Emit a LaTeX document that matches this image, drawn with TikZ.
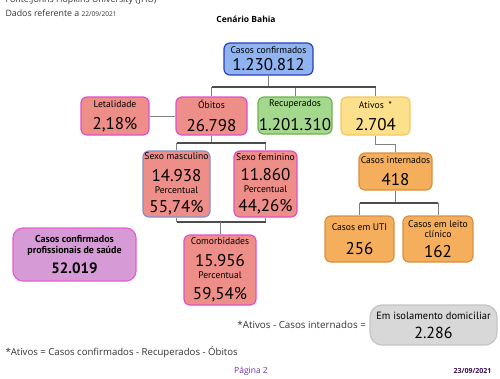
\documentclass[tikz,border=0pt]{standalone}
\usepackage{fontspec}
\setmainfont{Open Sans}
\newfontfamily\boxfont{PT Sans}
\usetikzlibrary{positioning}

\definecolor{confFill}{HTML}{8FB4F0}
\definecolor{confLine}{HTML}{2A3FBF}
\definecolor{salmon}{HTML}{EE8E88}
\definecolor{pinkLine}{HTML}{E050C8}
\definecolor{mascLine}{HTML}{8090D0}
\definecolor{recFill}{HTML}{A4D88C}
\definecolor{recLine}{HTML}{70B050}
\definecolor{atiFill}{HTML}{FCE08C}
\definecolor{atiLine}{HTML}{F0C860}
\definecolor{intFill}{HTML}{F4AE5C}
\definecolor{intLine}{HTML}{D89040}
\definecolor{profFill}{HTML}{D69AD6}
\definecolor{profLine}{HTML}{E85CD0}
\definecolor{isoFill}{HTML}{D8D8D8}
\definecolor{isoLine}{HTML}{C4C4C4}
\definecolor{pagePurple}{HTML}{7030A0}
\definecolor{datePurple}{HTML}{3A1050}

\newcommand{\bignum}[1]{{\fontsize{17}{12}\selectfont #1}}

\tikzset{
  card/.style={rectangle, rounded corners=6pt, line width=1.2pt, align=center,
    inner sep=0pt, font=\boxfont\fontsize{9.6}{12}\selectfont, text=black},
  bar/.style={line width=2.4pt, black!70},
  tie/.style={line width=0.9pt, black!50},
  pagetext/.style={text=black!80},
}

\begin{document}
\begin{tikzpicture}[x=1pt, y=-1pt]
\useasboundingbox (0,0) rectangle (500,378);

% header
\begin{scope}
\clip (0,0) rectangle (500,378);
\node[pagetext, anchor=base west, font=\fontsize{8.8}{10}\selectfont] (src) at (2,2) {Fonte:Johns Hopkins University (JHU)};
\end{scope}
\node[pagetext, anchor=base west, font=\fontsize{8.8}{10}\selectfont] (ref) at (2,16) {Dados referente a {\fontsize{6.6}{7}\selectfont 22/09/2021}};
\node[font=\bfseries\fontsize{8.5}{10}\selectfont] (title) at (246,19) {Cenário Bahia};

% boxes
\node[card, fill=confFill, draw=confLine, minimum width=89pt, minimum height=32pt] (conf) at (268.5,59)
  {Casos confirmados\\[4pt]\bignum{1.230.812}};
\node[card, fill=salmon, draw=pinkLine, minimum width=68pt, minimum height=38pt] (leta) at (115,116)
  {Letalidade\\[9pt]\bignum{2,18\%}};
\node[card, fill=salmon, draw=pinkLine, minimum width=71pt, minimum height=38pt] (obit) at (211.5,116)
  {Óbitos\\[9pt]\bignum{26.798}};
\node[card, fill=recFill, draw=recLine, minimum width=74pt, minimum height=37pt] (recu) at (295,115.5)
  {Recuperados\\[9pt]\bignum{1.201.310}};
\node[card, fill=atiFill, draw=atiLine, minimum width=69pt, minimum height=38pt] (ativ) at (375.5,116)
  {Ativos\enspace*\\[9pt]\bignum{2.704}};

\node[card, fill=salmon, draw=mascLine, minimum width=67pt, minimum height=66pt] (masc) at (176.5,184)
  {Sexo masculino\\[8pt]\bignum{14.938}\\[0pt]Percentual\\[6pt]\bignum{55,74\%}};
\node[card, fill=salmon, draw=pinkLine, minimum width=63pt, minimum height=66pt] (femi) at (265.5,184)
  {Sexo feminino\\[7pt]\bignum{11.860}\\[0pt]Percentual\\[6pt]\bignum{44,26\%}};
\node[card, fill=salmon, draw=pinkLine, minimum width=72pt, minimum height=70pt] (como) at (220,270)
  {Comorbidades\\[8pt]\bignum{15.956}\\[0pt]Percentual\\[8pt]\bignum{59,54\%}};

\node[card, fill=intFill, draw=intLine, minimum width=73pt, minimum height=37pt] (inte) at (395.5,171.5)
  {Casos internados\\[9pt]\bignum{418}};
\node[card, fill=intFill, draw=intLine, minimum width=69pt, minimum height=46pt] (utis) at (359.5,239)
  {Casos em UTI\\[11pt]\bignum{256}};
\node[card, fill=intFill, draw=intLine, minimum width=70pt, minimum height=46pt] (leit) at (438,239)
  {Casos em leito\\[-2pt]clínico\\[7pt]\bignum{162}};

\node[card, fill=profFill, draw=profLine, minimum width=123pt, minimum height=53pt, rounded corners=10pt,
  font=\boxfont\bfseries\fontsize{10}{12}\selectfont] (prof) at (74.5,254.5)
  {Casos confirmados\\[-1pt]profissionais de saúde\\[7pt]{\fontsize{15}{12}\selectfont 52.019}};

\node[card, fill=isoFill, draw=isoLine, minimum width=127pt, minimum height=40pt, rounded corners=12pt,
  font=\boxfont\fontsize{10.5}{12}\selectfont] (isol) at (433.5,325)
  {Em isolamento domiciliar\\[7pt]{\fontsize{16}{12}\selectfont 2.286}};
\node[pagetext, anchor=east, font=\fontsize{9.8}{12}\selectfont] (eqiso) at (isol.west) {*Ativos - Casos internados =};

% connectors
\coordinate (b1) at (268.5,87);
\draw[tie] (conf.south) -- (b1);
\draw[tie] (obit.north |- b1) -- (obit.north);
\draw[tie] (recu.north |- b1) -- (recu.north);
\draw[tie] (ativ.north |- b1) -- (ativ.north);
\draw[bar] (obit.north |- b1) -- (ativ.north |- b1);
\draw[tie] (leta.east) -- (obit.west);

\coordinate (b2) at (211.5,143);
\draw[tie] (obit.south) -- (b2);
\draw[tie] (masc.north |- b2) -- (masc.north);
\draw[tie] (femi.north |- b2) -- (femi.north);
\draw[bar] (masc.north |- b2) -- (femi.north |- b2);

\coordinate (b3) at (220,222);
\draw[tie] (masc.south |- b3) -- (masc.south);
\draw[tie] (femi.south |- b3) -- (femi.south);
\draw[bar] (masc.south |- b3) -- (femi.south |- b3);
\draw[tie] (b3) -- (como.north);

\coordinate (b4) at (375.5,144);
\draw[tie] (ativ.south) -- (b4) -| (inte.north);

\coordinate (b5) at (395.5,203);
\draw[tie] (inte.south) -- (b5);
\draw[tie] (utis.north |- b5) -- (utis.north);
\draw[tie] (leit.north |- b5) -- (leit.north);
\draw[bar] (utis.north |- b5) -- (leit.north |- b5);

% footer
\node[pagetext, anchor=base west, font=\fontsize{9.6}{12}\selectfont] (formula) at (2,355) {*Ativos = Casos confirmados - Recuperados - Óbitos};
\node[anchor=base, font=\fontsize{8.5}{10}\selectfont, text=pagePurple] (page) at (251,373) {Página 2};
\node[anchor=base east, font=\bfseries\fontsize{7}{9}\selectfont, text=datePurple] (date) at (495,373) {23/09/2021};
\end{tikzpicture}
\end{document}
